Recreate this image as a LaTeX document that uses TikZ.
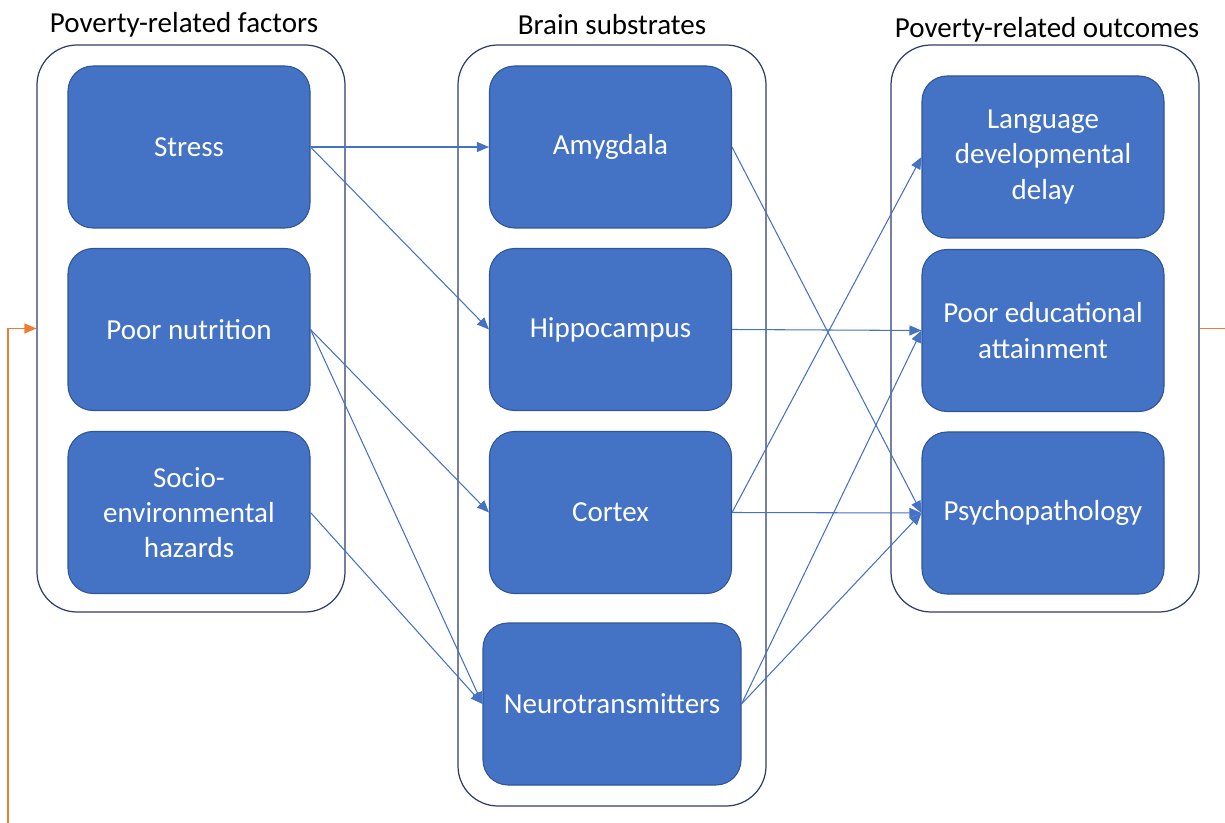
\documentclass[tikz,border=0pt]{standalone}
\usepackage{fontspec}
\setmainfont{Carlito}
\usetikzlibrary{arrows.meta}

\definecolor{boxblue}{HTML}{4472C4}
\definecolor{boxedge}{HTML}{2F5597}
\definecolor{groupedge}{HTML}{2E3D6B}
\definecolor{loopcolor}{HTML}{ED7D31}

\tikzset{
  group/.style={draw=groupedge, line width=0.7pt, rounded corners=0.8cm,
    minimum width=6.16cm, inner sep=0pt},
  factor/.style={draw=boxedge, line width=0.6pt, fill=boxblue, rounded corners=0.5cm,
    minimum width=4.84cm, minimum height=3.24cm, text=white, align=center,
    font=\fontsize{16.5}{20}\selectfont, inner sep=2pt},
  title/.style={font=\fontsize{16.5}{19}\selectfont},
  link/.style={draw=boxblue, line width=0.6pt, -{Triangle[length=2.4mm,width=2mm]}},
  feedback/.style={draw=loopcolor, line width=0.7pt}
}

\begin{document}
\begin{tikzpicture}
        \useasboundingbox (0, 0) rectangle (24.5, -16.46);

        % groups and titles
        \node[group, minimum height=11.34cm] (factors) at (3.82, -6.57) {};
        \node[group, minimum height=15.22cm] (brain) at (12.24, -8.51) {};
        \node[group, minimum height=11.34cm] (outcomes) at (20.9, -6.57) {};
        \node[title] (tfactors) at (3.68, -0.5) {Poverty-related factors};
        \node[title] (tbrain) at (12.24, -0.5) {Brain substrates};
        \node[title] (toutcomes) at (20.94, -0.6) {Poverty-related outcomes};

        % factors
        \node[factor] (stress) at (3.78, -2.94) {Stress};
        \node[factor] (nutrition) at (3.78, -6.59) {Poor nutrition};
        \node[factor] (hazards) at (3.78, -10.25) {Socio-\\environmental\\hazards};

        % brain substrates
        \node[factor] (amygdala) at (12.21, -2.94) {Amygdala};
        \node[factor] (hippo) at (12.21, -6.59) {Hippocampus};
        \node[factor] (cortex) at (12.21, -10.25) {Cortex};
        \node[factor, minimum width=5.16cm] (neuro) at (12.24, -14.08) {Neurotransmitters};

        % outcomes
        \node[factor] (language) at (20.86, -3.14) {Language\\developmental\\delay};
        \node[factor] (education) at (20.86, -6.61) {Poor educational\\attainment};
        \node[factor] (psycho) at (20.86, -10.26) {Psychopathology};

        % factors -> brain
        \draw[link] (stress.east) -- (amygdala.west);
        \draw[link] (stress.east) -- (hippo.west);
        \draw[link] (nutrition.east) -- (cortex.west);
        \draw[link] (nutrition.east) -- (neuro.west);
        \draw[link] (hazards.east) -- (neuro.west);

        % brain -> outcomes
        \draw[link] (amygdala.east) -- (psycho.west);
        \draw[link] (hippo.east) -- (education.west);
        \draw[link] (cortex.east) -- (language.west);
        \draw[link] (cortex.east) -- (psycho.west);
        \draw[link] (neuro.east) -- (education.west);
        \draw[link] (neuro.east) -- (psycho.west);

        % feedback loop, runs off the page
        \coordinate (loopout) at (24.5, -6.57);
        \coordinate (loopin) at (0.16, -16.46);
        \draw[feedback] (outcomes.east) -- (loopout);
        \draw[feedback, -{Triangle[length=2.4mm,width=2mm]}]
          (loopin) |- (factors.west);
\end{tikzpicture}
\end{document}
